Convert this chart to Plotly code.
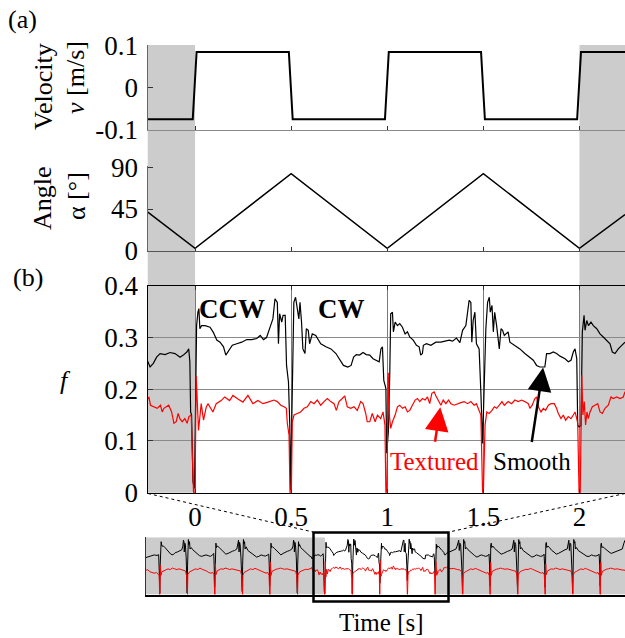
import plotly.graph_objects as go

W, H = 625, 638
def fx(p): return p / W
def fy(p): return 1 - p / H

FONT = "Liberation Serif, Times New Roman, serif"

# ---------------- data ----------------
vel_t = [-0.2474, -0.012, 0.008, 0.488, 0.508, 0.988, 1.008, 1.488, 1.508, 1.988, 2.008, 2.237]
vel_v = [-0.075, -0.075, 0.084, 0.084, -0.075, -0.075, 0.084, 0.084, -0.075, -0.075, 0.084, 0.084]

ang_t = [-0.2474, 0.0, 0.5, 1.0, 1.5, 2.0, 2.237]
ang_a = [42.0, 2.5, 83.3, 2.5, 83.3, 2.5, 39.0]

smooth_t = [-0.252, -0.234, -0.217, -0.200, -0.182, -0.156, -0.130, -0.104, -0.078, -0.061, -0.043, -0.033,
            -0.027, -0.023, -0.018, -0.011, -0.003, 0.002, 0.008, 0.015, 0.020, 0.025, 0.034, 0.052, 0.078,
            0.095, 0.113, 0.130, 0.148, 0.160, 0.174, 0.194, 0.217, 0.243, 0.269, 0.295, 0.321, 0.339, 0.356,
            0.372, 0.393, 0.405, 0.416, 0.428, 0.434, 0.440, 0.451, 0.458, 0.469, 0.476, 0.486, 0.493, 0.497,
            0.505, 0.514, 0.523, 0.532, 0.540, 0.546, 0.554, 0.561, 0.572, 0.579, 0.589, 0.596, 0.610, 0.628,
            0.654, 0.681, 0.707, 0.733, 0.751, 0.772, 0.795, 0.812, 0.825, 0.839, 0.856, 0.874, 0.891, 0.909,
            0.926, 0.944, 0.958, 0.967, 0.975, 0.982, 0.993, 0.997, 1.006, 1.013, 1.018, 1.027, 1.032, 1.041,
            1.053, 1.065, 1.079, 1.093, 1.105, 1.117, 1.135, 1.152, 1.166, 1.174, 1.183, 1.188, 1.204, 1.227,
            1.253, 1.279, 1.305, 1.322, 1.340, 1.360, 1.378, 1.392, 1.409, 1.418, 1.426, 1.435, 1.440, 1.447,
            1.456, 1.464, 1.478, 1.487, 1.496, 1.504, 1.513, 1.522, 1.531, 1.536, 1.545, 1.552, 1.559, 1.569,
            1.583, 1.592, 1.600, 1.609, 1.629, 1.638, 1.664, 1.690, 1.716, 1.742, 1.760, 1.777, 1.794, 1.820,
            1.829, 1.846, 1.864, 1.881, 1.899, 1.925, 1.942, 1.956, 1.968, 1.977, 1.986, 1.991, 1.998, 2.008,
            2.015, 2.024, 2.029, 2.038, 2.047, 2.060, 2.072, 2.090, 2.107, 2.124, 2.142, 2.159, 2.171, 2.185,
            2.202, 2.220, 2.237]
smooth_f = [0.259, 0.243, 0.250, 0.262, 0.269, 0.267, 0.271, 0.269, 0.262, 0.266, 0.272, 0.278,
            0.253, 0.156, 0.150, 0.021, 0.008, 0.150, 0.323, 0.349, 0.356, 0.317, 0.323, 0.323, 0.320,
            0.310, 0.295, 0.291, 0.282, 0.266, 0.275, 0.285, 0.288, 0.291, 0.296, 0.296, 0.298, 0.304, 0.296,
            0.300, 0.323, 0.336, 0.375, 0.368, 0.288, 0.346, 0.330, 0.343, 0.343, 0.246, 0.214, 0.131, 0.005,
            0.200, 0.368, 0.378, 0.359, 0.336, 0.368, 0.330, 0.278, 0.269, 0.317, 0.314, 0.288, 0.307, 0.304,
            0.288, 0.282, 0.278, 0.269, 0.259, 0.246, 0.243, 0.246, 0.262, 0.267, 0.266, 0.271, 0.267, 0.266,
            0.259, 0.256, 0.253, 0.278, 0.282, 0.217, 0.201, 0.076, 0.118, 0.227, 0.346, 0.349, 0.311, 0.330,
            0.323, 0.327, 0.320, 0.307, 0.311, 0.301, 0.295, 0.285, 0.282, 0.266, 0.269, 0.285, 0.288, 0.285,
            0.291, 0.291, 0.293, 0.295, 0.293, 0.299, 0.290, 0.314, 0.323, 0.356, 0.372, 0.368, 0.291, 0.333,
            0.349, 0.288, 0.278, 0.195, 0.095, 0.201, 0.317, 0.368, 0.378, 0.349, 0.362, 0.311, 0.349, 0.323,
            0.278, 0.317, 0.314, 0.304, 0.311, 0.291, 0.285, 0.278, 0.269, 0.262, 0.256, 0.246, 0.243, 0.243,
            0.269, 0.269, 0.272, 0.269, 0.264, 0.259, 0.253, 0.256, 0.272, 0.278, 0.259, 0.131, 0.127, 0.130,
            0.311, 0.343, 0.314, 0.333, 0.323, 0.330, 0.323, 0.317, 0.307, 0.301, 0.295, 0.288, 0.272, 0.269,
            0.278, 0.285, 0.291]

textured_t = [-0.249, -0.240, -0.232, -0.214, -0.197, -0.180, -0.171, -0.162, -0.150, -0.137, -0.122, -0.110,
              -0.098, -0.088, -0.079, -0.067, -0.053, -0.041, -0.032, -0.020, -0.008, 0.000, 0.006, 0.018,
              0.032, 0.044, 0.058, 0.067, 0.093, 0.110, 0.136, 0.154, 0.180, 0.197, 0.223, 0.249, 0.275, 0.301,
              0.327, 0.353, 0.379, 0.411, 0.428, 0.446, 0.463, 0.475, 0.480, 0.489, 0.494, 0.501, 0.506, 0.515,
              0.532, 0.549, 0.567, 0.584, 0.602, 0.619, 0.636, 0.654, 0.671, 0.688, 0.706, 0.723, 0.735, 0.749,
              0.766, 0.779, 0.792, 0.810, 0.827, 0.844, 0.862, 0.874, 0.888, 0.896, 0.909, 0.922, 0.937, 0.949,
              0.966, 0.978, 0.988, 0.993, 0.998, 1.005, 1.012, 1.018, 1.027, 1.041, 1.053, 1.065, 1.079, 1.093,
              1.105, 1.117, 1.131, 1.145, 1.157, 1.169, 1.183, 1.197, 1.209, 1.221, 1.232, 1.244, 1.256, 1.267,
              1.279, 1.291, 1.305, 1.319, 1.331, 1.348, 1.366, 1.383, 1.400, 1.418, 1.435, 1.452, 1.464, 1.478,
              1.487, 1.496, 1.500, 1.509, 1.518, 1.530, 1.545, 1.557, 1.569, 1.583, 1.597, 1.609, 1.629, 1.647,
              1.664, 1.681, 1.699, 1.716, 1.734, 1.742, 1.754, 1.768, 1.777, 1.786, 1.800, 1.812, 1.824, 1.838,
              1.852, 1.869, 1.881, 1.890, 1.904, 1.916, 1.928, 1.942, 1.956, 1.968, 1.977, 1.986, 1.991, 1.998,
              2.004, 2.012, 2.018, 2.025, 2.032, 2.039, 2.046, 2.055, 2.067, 2.081, 2.095, 2.107, 2.119, 2.133,
              2.150, 2.164, 2.176, 2.194, 2.211, 2.228, 2.237]
textured_f = [0.179, 0.185, 0.169, 0.166, 0.163, 0.169, 0.156, 0.163, 0.166, 0.169, 0.156, 0.134,
              0.137, 0.153, 0.143, 0.137, 0.143, 0.134, 0.147, 0.150, 0.000, 0.000, 0.226, 0.120,
              0.172, 0.140, 0.165, 0.172, 0.156, 0.172, 0.178, 0.185, 0.178, 0.188, 0.181, 0.175, 0.188, 0.172,
              0.178, 0.172, 0.175, 0.179, 0.176, 0.169, 0.166, 0.163, 0.134, 0.111, 0.000, 0.000, 0.137, 0.150,
              0.153, 0.156, 0.163, 0.166, 0.176, 0.172, 0.179, 0.169, 0.176, 0.182, 0.176, 0.172, 0.159, 0.176,
              0.182, 0.187, 0.166, 0.163, 0.166, 0.159, 0.176, 0.172, 0.153, 0.137, 0.137, 0.153, 0.137, 0.150,
              0.143, 0.156, 0.131, 0.000, 0.000, 0.232, 0.146, 0.124, 0.137, 0.150, 0.166, 0.169, 0.163, 0.166,
              0.156, 0.159, 0.169, 0.179, 0.182, 0.176, 0.182, 0.179, 0.185, 0.172, 0.192, 0.195, 0.185, 0.176,
              0.169, 0.179, 0.172, 0.179, 0.172, 0.169, 0.172, 0.174, 0.176, 0.172, 0.176, 0.169, 0.172, 0.159,
              0.150, 0.000, 0.000, 0.131, 0.156, 0.153, 0.159, 0.166, 0.163, 0.169, 0.176, 0.169, 0.176, 0.172,
              0.179, 0.176, 0.179, 0.176, 0.172, 0.163, 0.169, 0.182, 0.185, 0.166, 0.156, 0.163, 0.159, 0.169,
              0.172, 0.172, 0.163, 0.153, 0.143, 0.150, 0.140, 0.147, 0.143, 0.150, 0.156, 0.143, 0.134, 0.000,
              0.000, 0.227, 0.150, 0.176, 0.131, 0.156, 0.143, 0.156, 0.166, 0.169, 0.172, 0.156, 0.153, 0.163,
              0.169, 0.185, 0.182, 0.185, 0.182, 0.185, 0.195]

# longer recording shown in the overview strip (outside the zoomed window)
ovl_smooth_t = [-3.25, -3.20, -3.15, -3.10, -3.05, -3.02, -3.008, -3.000, -2.992, -2.985, -2.975, -2.96, -2.93,
                -2.90, -2.86, -2.83, -2.80, -2.76, -2.72, -2.68, -2.64, -2.60, -2.58, -2.57, -2.56, -2.555,
                -2.545, -2.535, -2.52, -2.51, -2.503, -2.495, -2.488, -2.48, -2.47, -2.46, -2.45, -2.43, -2.40,
                -2.36, -2.32, -2.28, -2.24, -2.20, -2.16, -2.12, -2.08, -2.04, -2.02, -2.012, -2.003, -1.995,
                -1.988, -1.98, -1.97, -1.95, -1.92, -1.88, -1.84, -1.80, -1.76, -1.72, -1.68, -1.64, -1.60,
                -1.58, -1.57, -1.56, -1.55, -1.54, -1.525, -1.51, -1.502, -1.495, -1.488, -1.48, -1.47, -1.46,
                -1.45, -1.43, -1.40, -1.36, -1.32, -1.28, -1.24, -1.20, -1.16, -1.12, -1.08, -1.04, -1.02,
                -1.012, -1.003, -0.995, -0.988, -0.98, -0.97, -0.95, -0.92, -0.88, -0.84, -0.80, -0.76, -0.72,
                -0.68, -0.64, -0.60, -0.58, -0.57, -0.56, -0.555, -0.545, -0.535, -0.52, -0.51, -0.502, -0.495,
                -0.488, -0.48, -0.47, -0.46, -0.44, -0.41, -0.38, -0.34, -0.30, -0.27]
ovl_smooth_f = [0.252, 0.258, 0.262, 0.270, 0.266, 0.272, 0.14, 0.01, 0.20, 0.345, 0.36, 0.33, 0.33,
                0.318, 0.30, 0.29, 0.275, 0.27, 0.285, 0.29, 0.30, 0.305, 0.33, 0.37, 0.36, 0.29,
                0.35, 0.34, 0.25, 0.15, 0.01, 0.20, 0.37, 0.375, 0.34, 0.36, 0.31, 0.32, 0.305,
                0.29, 0.28, 0.265, 0.26, 0.265, 0.27, 0.265, 0.26, 0.27, 0.28, 0.20, 0.05, 0.15,
                0.34, 0.35, 0.32, 0.33, 0.32, 0.305, 0.29, 0.275, 0.28, 0.29, 0.295, 0.30, 0.31,
                0.35, 0.37, 0.29, 0.355, 0.34, 0.25, 0.12, 0.02, 0.20, 0.365, 0.375, 0.345, 0.36,
                0.31, 0.325, 0.30, 0.29, 0.275, 0.265, 0.255, 0.26, 0.27, 0.265, 0.262, 0.27, 0.275,
                0.20, 0.06, 0.15, 0.34, 0.35, 0.32, 0.325, 0.315, 0.30, 0.285, 0.27, 0.28, 0.29,
                0.295, 0.30, 0.31, 0.33, 0.37, 0.36, 0.29, 0.355, 0.34, 0.25, 0.13, 0.01, 0.20,
                0.355, 0.36, 0.33, 0.34, 0.32, 0.31, 0.295, 0.28, 0.268, 0.26]
ovr_smooth_t = [2.26, 2.29, 2.32, 2.35, 2.38, 2.40, 2.42, 2.43, 2.44, 2.45, 2.465, 2.48, 2.49, 2.498, 2.505,
                2.512, 2.52, 2.53, 2.54, 2.55, 2.57, 2.60, 2.64, 2.68, 2.72, 2.76, 2.80, 2.84, 2.88, 2.92,
                2.96, 2.98, 2.99, 2.998, 3.005, 3.012, 3.02, 3.03, 3.05, 3.08, 3.12, 3.16, 3.20, 3.24, 3.28,
                3.32, 3.36, 3.40, 3.42, 3.43, 3.44, 3.45, 3.465, 3.48, 3.49, 3.498, 3.505, 3.512, 3.52, 3.53,
                3.54, 3.55, 3.57, 3.60, 3.64, 3.68, 3.72, 3.76, 3.80, 3.84, 3.88, 3.92, 3.96, 3.98, 3.99,
                3.998, 4.005, 4.012, 4.02, 4.03, 4.05, 4.08, 4.12, 4.16, 4.20, 4.24, 4.28, 4.32, 4.36, 4.40,
                4.42, 4.43, 4.44, 4.45, 4.465, 4.48, 4.49, 4.498, 4.505, 4.512, 4.52, 4.53, 4.54, 4.55, 4.57,
                4.60, 4.64, 4.68, 4.72, 4.76, 4.80, 4.84, 4.88, 4.92, 4.96, 4.98, 4.99, 4.998, 5.005, 5.012,
                5.02, 5.03, 5.05, 5.08, 5.12, 5.16, 5.20, 5.24, 5.28, 5.32, 5.36, 5.40, 5.43, 5.45]
ovr_smooth_f = [0.29, 0.295, 0.30, 0.305, 0.31, 0.33, 0.36, 0.37, 0.30, 0.35, 0.34, 0.26, 0.15, 0.01, 0.20,
                0.37, 0.375, 0.35, 0.36, 0.31, 0.32, 0.305, 0.29, 0.28, 0.265, 0.255, 0.26, 0.27, 0.265, 0.26,
                0.265, 0.275, 0.20, 0.06, 0.15, 0.34, 0.35, 0.32, 0.33, 0.315, 0.30, 0.285, 0.275, 0.28, 0.29,
                0.295, 0.30, 0.31, 0.35, 0.37, 0.29, 0.355, 0.34, 0.25, 0.13, 0.02, 0.20, 0.365, 0.375, 0.345,
                0.36, 0.31, 0.32, 0.30, 0.29, 0.275, 0.265, 0.255, 0.26, 0.27, 0.265, 0.26, 0.265, 0.275, 0.20,
                0.05, 0.15, 0.345, 0.355, 0.32, 0.33, 0.32, 0.30, 0.29, 0.275, 0.28, 0.29, 0.295, 0.305, 0.31,
                0.34, 0.37, 0.30, 0.35, 0.345, 0.26, 0.14, 0.01, 0.20, 0.37, 0.375, 0.35, 0.36, 0.31, 0.32,
                0.30, 0.29, 0.28, 0.265, 0.26, 0.26, 0.27, 0.265, 0.262, 0.268, 0.275, 0.20, 0.06, 0.15, 0.34,
                0.35, 0.32, 0.325, 0.315, 0.30, 0.29, 0.28, 0.285, 0.29, 0.30, 0.305, 0.31, 0.35, 0.37]

ovl_textured_t = [-3.25, -3.22, -3.18, -3.14, -3.10, -3.06, -3.03, -3.01, -3.003, -2.997, -2.99, -2.98, -2.96,
                  -2.93, -2.89, -2.85, -2.81, -2.77, -2.73, -2.69, -2.65, -2.61, -2.57, -2.53, -2.51, -2.503,
                  -2.497, -2.49, -2.47, -2.43, -2.39, -2.35, -2.31, -2.27, -2.23, -2.19, -2.15, -2.11, -2.07,
                  -2.04, -2.015, -2.003, -1.997, -1.99, -1.98, -1.96, -1.93, -1.89, -1.85, -1.81, -1.77, -1.73,
                  -1.69, -1.65, -1.61, -1.57, -1.53, -1.51, -1.503, -1.497, -1.49, -1.47, -1.43, -1.39, -1.35,
                  -1.31, -1.27, -1.23, -1.19, -1.15, -1.11, -1.07, -1.04, -1.015, -1.003, -0.997, -0.99, -0.98,
                  -0.96, -0.93, -0.89, -0.85, -0.81, -0.77, -0.73, -0.69, -0.65, -0.61, -0.57, -0.53, -0.51,
                  -0.503, -0.497, -0.49, -0.47, -0.43, -0.39, -0.35, -0.31, -0.27]
ovl_textured_f = [0.165, 0.17, 0.155, 0.15, 0.145, 0.15, 0.14, 0.13, 0.0, 0.0, 0.20, 0.13, 0.155,
                  0.16, 0.17, 0.175, 0.17, 0.18, 0.175, 0.17, 0.175, 0.17, 0.168, 0.16, 0.12, 0.0,
                  0.0, 0.135, 0.15, 0.16, 0.165, 0.175, 0.17, 0.18, 0.172, 0.168, 0.16, 0.15, 0.145,
                  0.15, 0.135, 0.0, 0.0, 0.21, 0.135, 0.16, 0.165, 0.175, 0.172, 0.18, 0.176, 0.17,
                  0.175, 0.172, 0.168, 0.165, 0.16, 0.125, 0.0, 0.0, 0.13, 0.15, 0.158, 0.168, 0.175,
                  0.17, 0.178, 0.172, 0.165, 0.16, 0.148, 0.145, 0.15, 0.13, 0.0, 0.0, 0.22, 0.13,
                  0.158, 0.165, 0.172, 0.175, 0.18, 0.176, 0.172, 0.175, 0.17, 0.168, 0.165, 0.158, 0.12,
                  0.0, 0.0, 0.13, 0.15, 0.16, 0.165, 0.172, 0.17, 0.175]
ovr_textured_t = [2.25, 2.29, 2.33, 2.37, 2.41, 2.45, 2.48, 2.493, 2.498, 2.503, 2.51, 2.53, 2.57, 2.61, 2.65,
                  2.69, 2.73, 2.77, 2.81, 2.85, 2.89, 2.93, 2.96, 2.985, 2.997, 3.003, 3.01, 3.02, 3.04, 3.07,
                  3.11, 3.15, 3.19, 3.23, 3.27, 3.31, 3.35, 3.39, 3.43, 3.47, 3.49, 3.497, 3.503, 3.51, 3.53,
                  3.57, 3.61, 3.65, 3.69, 3.73, 3.77, 3.81, 3.85, 3.89, 3.93, 3.96, 3.985, 3.997, 4.003, 4.01,
                  4.02, 4.04, 4.07, 4.11, 4.15, 4.19, 4.23, 4.27, 4.31, 4.35, 4.39, 4.43, 4.47, 4.49, 4.497,
                  4.503, 4.51, 4.53, 4.57, 4.61, 4.65, 4.69, 4.73, 4.77, 4.81, 4.85, 4.89, 4.93, 4.96, 4.985,
                  4.997, 5.003, 5.01, 5.02, 5.04, 5.07, 5.11, 5.15, 5.19, 5.23, 5.27, 5.31, 5.35, 5.39, 5.45]
ovr_textured_f = [0.18, 0.175, 0.178, 0.172, 0.17, 0.168, 0.155, 0.11, 0.0, 0.0, 0.135, 0.15, 0.158, 0.168, 0.175,
                  0.17, 0.178, 0.172, 0.165, 0.158, 0.148, 0.145, 0.15, 0.13, 0.0, 0.0, 0.22, 0.13, 0.158, 0.165,
                  0.172, 0.175, 0.18, 0.176, 0.172, 0.175, 0.17, 0.168, 0.165, 0.158, 0.12, 0.0, 0.0, 0.13, 0.15,
                  0.16, 0.165, 0.172, 0.17, 0.178, 0.172, 0.165, 0.16, 0.148, 0.145, 0.15, 0.135, 0.0, 0.0, 0.21,
                  0.135, 0.16, 0.165, 0.175, 0.172, 0.18, 0.176, 0.17, 0.175, 0.172, 0.168, 0.165, 0.16, 0.125, 0.0,
                  0.0, 0.13, 0.15, 0.158, 0.168, 0.175, 0.17, 0.178, 0.172, 0.165, 0.16, 0.148, 0.145, 0.15, 0.13,
                  0.0, 0.0, 0.22, 0.13, 0.158, 0.165, 0.172, 0.175, 0.18, 0.176, 0.172, 0.175, 0.17, 0.168, 0.165]

x_ticks = [0, 0.5, 1, 1.5, 2]
x_ticktext = ["0", "0.5", "1", "1.5", "2"]
vel_ticks = [-0.1, 0, 0.1]
vel_ticktext = ["-0.1", "0", "0.1"]
ang_ticks = [0, 45, 90]
f_ticks = [0, 0.1, 0.2, 0.3, 0.4]
f_ticktext = ["0", "0.1", "0.2", "0.3", "0.4"]

# full overview series = earlier part + zoomed window + later part
ov_smooth_t = ovl_smooth_t + smooth_t + ovr_smooth_t
ov_smooth_f = ovl_smooth_f + smooth_f + ovr_smooth_f
ov_textured_t = ovl_textured_t + textured_t + ovr_textured_t
ov_textured_f = ovl_textured_f + textured_f + ovr_textured_f

# ---------------- figure ----------------
XR = [-0.2474, 2.237]
XD = [fx(147.5), 1.0]
TF = dict(family=FONT, size=26, color="black")
TICKF = dict(family=FONT, size=27, color="black")

fig = go.Figure()
fig.add_trace(go.Scatter(x=vel_t, y=vel_v, mode="lines", line=dict(color="black", width=2),
                         xaxis="x", yaxis="y", hoverinfo="skip"))
fig.add_trace(go.Scatter(x=ang_t, y=ang_a, mode="lines", line=dict(color="black", width=1.5),
                         xaxis="x2", yaxis="y2", hoverinfo="skip"))
fig.add_trace(go.Scatter(x=smooth_t, y=smooth_f, mode="lines", line=dict(color="black", width=1.2),
                         xaxis="x3", yaxis="y3", hoverinfo="skip"))
fig.add_trace(go.Scatter(x=textured_t, y=textured_f, mode="lines", line=dict(color="#ff0000", width=1.2),
                         xaxis="x3", yaxis="y3", hoverinfo="skip"))
fig.add_trace(go.Scatter(x=ov_smooth_t, y=ov_smooth_f, mode="lines", line=dict(color="black", width=1),
                         xaxis="x4", yaxis="y4", hoverinfo="skip"))
fig.add_trace(go.Scatter(x=ov_textured_t, y=ov_textured_f, mode="lines", line=dict(color="#ff0000", width=1),
                         xaxis="x4", yaxis="y4", hoverinfo="skip"))

common_x = dict(range=XR, domain=XD, showgrid=False, zeroline=False, tickvals=x_ticks, automargin=False,
                ticks="inside", ticklen=4, tickcolor="#333", showline=True)

fig.update_layout(
    width=W, height=H, autosize=False,
    margin=dict(l=0, r=0, t=0, b=0, pad=0),
    paper_bgcolor="white", plot_bgcolor="rgba(0,0,0,0)",
    showlegend=False,
    font=TF,
    xaxis=dict(common_x, anchor="y", showticklabels=False, linecolor="#8a8a8a"),
    xaxis2=dict(common_x, anchor="y2", showticklabels=False, linecolor="#555"),
    xaxis3=dict(common_x, anchor="y3", showticklabels=True, ticktext=x_ticktext, linecolor="black",
                showgrid=True, gridcolor="#7a7a7a", gridwidth=1, mirror="ticks",
                tickfont=TICKF, ticklabelstandoff=0),
    yaxis=dict(domain=[fy(130), fy(45)], range=[-0.1003, 0.1003], anchor="x", tickvals=vel_ticks,
               ticktext=vel_ticktext, ticks="inside", ticklen=5, tickcolor="#333", showline=True,
               linecolor="#666", showgrid=False, zeroline=False, tickfont=TICKF, ticklabelstandoff=3,
               automargin=False),
    yaxis2=dict(domain=[fy(250.7), fy(166)], range=[-0.1, 91.6], anchor="x2", tickvals=ang_ticks,
                ticks="inside", ticklen=5, tickcolor="#333", showline=True, linecolor="#666",
                showgrid=False, zeroline=False, tickfont=TICKF, ticklabelstandoff=3, automargin=False),
    yaxis3=dict(domain=[fy(492.7), fy(285.7)], range=[-0.0003, 0.4003], anchor="x3", tickvals=f_ticks,
                ticktext=f_ticktext, ticks="inside", ticklen=5, tickcolor="#333", showline=True,
                linecolor="black", showgrid=True, gridcolor="#8a8a8a", gridwidth=1, zeroline=False,
                tickfont=TICKF, ticklabelstandoff=3, automargin=False),
    xaxis4=dict(domain=[fx(146), 1.0], range=[-3.25, 5.45], anchor="y4", showticklabels=False, ticks="",
                showline=True, linecolor="black", linewidth=1.5, showgrid=False, zeroline=False,
                automargin=False),
    yaxis4=dict(domain=[fy(594.5), fy(537.3)], range=[0, 0.39], anchor="x4", showticklabels=False,
                ticks="", showline=True, linecolor="#333", showgrid=False, zeroline=False, automargin=False),
)

shapes = [
    dict(type="rect", xref="x3", yref="paper", x0=XR[0], x1=0, y0=fy(492.7), y1=fy(45),
         fillcolor="#cccccc", line=dict(width=0), layer="below"),
    dict(type="rect", xref="x3", yref="paper", x0=2.0, x1=XR[1], y0=fy(492.7), y1=fy(45),
         fillcolor="#cccccc", line=dict(width=0), layer="below"),
    dict(type="rect", xref="x4", yref="y4", x0=-3.25, x1=0, y0=0, y1=0.39,
         fillcolor="#cccccc", line=dict(width=0), layer="below"),
    dict(type="rect", xref="x4", yref="y4", x0=2.0, x1=5.45, y0=0, y1=0.39,
         fillcolor="#cccccc", line=dict(width=0), layer="below"),
    dict(type="line", xref="paper", yref="paper", x0=fx(148), y0=fy(493.5), x1=fx(313), y1=fy(532),
         line=dict(color="black", width=1, dash="dot")),
    dict(type="line", xref="paper", yref="paper", x0=fx(625), y0=fy(493.5), x1=fx(449), y1=fy(532),
         line=dict(color="black", width=1, dash="dot")),
    dict(type="rect", xref="paper", yref="paper", x0=fx(313.5), x1=fx(448.5), y0=fy(601.5), y1=fy(532.5),
         line=dict(color="black", width=2.5), fillcolor="rgba(0,0,0,0)"),
]
fig.update_layout(shapes=shapes)

def pa(text, x, y, **kw):
    d = dict(text=text, xref="paper", yref="paper", x=fx(x), y=fy(y), showarrow=False,
             xanchor="center", yanchor="middle", font=TF)
    d.update(kw)
    return d

ann = [
    pa("(a)", 22, 20),
    pa("(b)", 28, 277),
    pa("Velocity", 43, 87, textangle=-90),
    pa("<i>v</i> [m/s]", 76, 78, textangle=-90),
    pa("Angle", 43, 198, textangle=-90),
    pa("α [°]", 76, 196, textangle=-90),
    pa("<i>f</i>", 65, 381),
    pa("<b>CCW</b>", 231.5, 309, font=dict(family=FONT, size=27, color="black")),
    pa("<b>CW</b>", 341.5, 309, font=dict(family=FONT, size=27, color="black")),
    pa("Textured", 434.5, 461, font=dict(family=FONT, size=25, color="#ff0000"),
       bgcolor="white", borderpad=1),
    pa("Smooth", 532, 461, font=dict(family=FONT, size=25, color="black"),
       bgcolor="white", borderpad=1),
    pa("Time [s]", 381, 622, font=dict(family=FONT, size=25, color="black")),
    dict(text="", xref="x3", yref="y3", x=1.276, y=0.165, ax=-5.5, ay=36, axref="pixel", ayref="pixel",
         showarrow=True, arrowhead=2, arrowsize=1.9, arrowwidth=2.5, arrowcolor="#ff0000", standoff=0),
    dict(text="", xref="x3", yref="y3", x=1.811, y=0.242, ax=-11.6, ay=76, axref="pixel", ayref="pixel",
         showarrow=True, arrowhead=2, arrowsize=1.9, arrowwidth=2.5, arrowcolor="black", standoff=0),
]
fig.update_layout(annotations=ann)

fig.write_html("out.html")
